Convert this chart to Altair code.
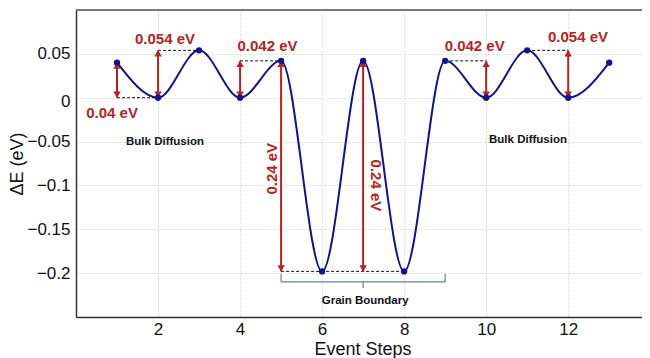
import altair as alt
import pandas as pd

# ---- data ----
steps = list(range(1, 14))
energy = [0.04, 0.0, 0.054, 0.0, 0.042, -0.198, 0.042, -0.198, 0.042, 0.0, 0.054, 0.0, 0.04]

arrow_x = [1, 2, 4, 5, 7, 10, 12]
arrow_lo = [0.0, 0.0, 0.0, -0.198, -0.198, 0.0, 0.0]
arrow_hi = [0.04, 0.054, 0.042, 0.042, 0.042, 0.042, 0.054]

dash_x1 = [1, 2, 4, 5, 9, 11]
dash_x2 = [2, 3, 5, 8, 10, 12]
dash_y = [0.0, 0.054, 0.042, -0.198, 0.042, 0.054]

label_text = ["0.04 eV", "0.054 eV", "0.042 eV", "0.042 eV", "0.054 eV"]
label_x = [0.88, 2.17, 4.67, 9.72, 12.24]
label_y = [-0.017, 0.067, 0.059, 0.059, 0.069]

rot_text = ["0.24 eV", "0.24 eV"]
rot_x = [4.78, 7.32]
rot_y = [-0.081, -0.1]
rot_angle = [270, 90]

region_text = ["Bulk Diffusion", "Bulk Diffusion", "Grain Boundary"]
region_x = [2.17, 11.02, 7.05]
region_y = [-0.051, -0.048, -0.232]

bracket_x1 = [5, 5, 9, 7]
bracket_x2 = [9, 5, 9, 7]
bracket_y1 = [-0.21, -0.21, -0.21, -0.21]
bracket_y2 = [-0.21, -0.201, -0.201, -0.217]

x_ticks = [2, 4, 6, 8, 10, 12]
y_ticks = [0.05, 0, -0.05, -0.1, -0.15, -0.2]
x_domain = [0, 13.97]
y_domain = [-0.25, 0.1]

RED = "#B5251E"
NAVY = "#121290"
FONT = "Liberation Sans"

xs = alt.Scale(domain=x_domain, nice=False, zero=False)
ys = alt.Scale(domain=y_domain, nice=False, zero=False)

df = pd.DataFrame({"x": steps, "y": energy})
arrows = pd.DataFrame({"x": arrow_x, "lo": arrow_lo, "hi": arrow_hi})
dashes = pd.DataFrame({"x1": dash_x1, "x2": dash_x2, "y": dash_y})
labels = pd.DataFrame({"t": label_text, "x": label_x, "y": label_y})
rots = pd.DataFrame({"t": rot_text, "x": rot_x, "y": rot_y, "a": rot_angle})
regions = pd.DataFrame({"t": region_text, "x": region_x, "y": region_y})
bracket = pd.DataFrame({"x1": bracket_x1, "x2": bracket_x2, "y1": bracket_y1, "y2": bracket_y2})

base_x = alt.X("x:Q", scale=xs, title="Event Steps",
               axis=alt.Axis(values=x_ticks, format="d"))
base_y = alt.Y("y:Q", scale=ys, title="ΔE (eV)",
               axis=alt.Axis(values=y_ticks, format="~g",
                             labelOffset=alt.condition("datum.value == 0", alt.value(4), alt.value(0))))

line = alt.Chart(df).mark_line(color=NAVY, strokeWidth=2, interpolate="monotone").encode(
    x=base_x, y=base_y)
pts = alt.Chart(df).mark_point(filled=True, color=NAVY, size=40, opacity=1).encode(
    x="x:Q", y="y:Q")

top_border = alt.Chart(df).mark_rule(color="#777777", strokeWidth=1.5).encode(
    x=alt.datum(x_domain[0]), x2=alt.datum(x_domain[1]), y=alt.datum(y_domain[1]))

dash = alt.Chart(dashes).mark_rule(color="#111111", strokeWidth=1, strokeDash=[3, 2]).encode(
    x="x1:Q", x2="x2:Q", y="y:Q")

shaft = alt.Chart(arrows).mark_rule(color=RED, strokeWidth=2).encode(
    x="x:Q", y="lo:Q", y2="hi:Q")
head_up = alt.Chart(arrows).mark_point(
    shape="triangle-up", filled=True, color=RED, size=56, opacity=1, yOffset=3).encode(
    x="x:Q", y="hi:Q")
head_dn = alt.Chart(arrows).mark_point(
    shape="triangle-down", filled=True, color=RED, size=56, opacity=1, yOffset=-3).encode(
    x="x:Q", y="lo:Q")

lbl = alt.Chart(labels).mark_text(color=RED, font=FONT, fontSize=15, fontWeight="bold").encode(
    x="x:Q", y="y:Q", text="t:N")
rot_l = alt.Chart(rots[rots.a == 270]).mark_text(
    color=RED, font=FONT, fontSize=15, fontWeight="bold", angle=270).encode(
    x="x:Q", y="y:Q", text="t:N")
rot_r = alt.Chart(rots[rots.a == 90]).mark_text(
    color=RED, font=FONT, fontSize=15, fontWeight="bold", angle=90).encode(
    x="x:Q", y="y:Q", text="t:N")

reg = alt.Chart(regions).mark_text(color="#111111", font=FONT, fontSize=11.5, fontWeight="bold").encode(
    x="x:Q", y="y:Q", text="t:N")

brk = alt.Chart(bracket).mark_rule(color="#5b82a8", strokeWidth=1.2).encode(
    x="x1:Q", x2="x2:Q", y="y1:Q", y2="y2:Q")

chart = alt.layer(line, top_border, dash, brk, shaft, head_up, head_dn, pts,
                  lbl, rot_l, rot_r, reg).properties(
    width=573, height=307,
    padding={"left": 0, "top": 1, "right": -8, "bottom": 0},
).configure_view(
    stroke="transparent"
).configure_axis(
    grid=True, gridColor="#d9d9d9", gridDash=[2, 2], gridWidth=1,
    ticks=False, domainColor="#333333", domainWidth=1.5,
    labelFont=FONT, labelFontSize=17, labelColor="#111111",
    titleFont=FONT, titleFontSize=18, titleFontWeight="normal", titleColor="#111111",
).configure_axisY(titlePadding=0, labelPadding=6).configure_axisX(titlePadding=3, labelPadding=4)

chart.save("out.html", embed_options={"renderer": "svg", "actions": False})
